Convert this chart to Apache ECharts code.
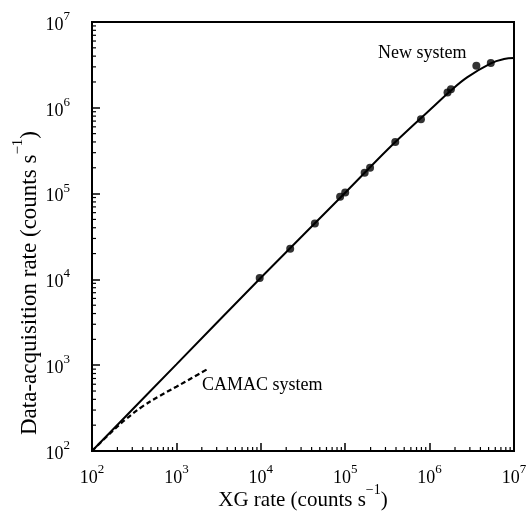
<!DOCTYPE html>
<html>
<head>
<meta charset="utf-8">
<script src="https://cdn.jsdelivr.net/npm/echarts@6/dist/echarts.min.js"></script>
<style>
html,body{margin:0;padding:0;background:#fff;}
#chart{width:529px;height:513px;}
</style>
</head>
<body>
<div id="chart"></div>
<script>
// New system: fitted curve
var newCurveX = [100, 1000, 1e4, 1e5, 3.16e5, 6.58e5, 1.13e6, 1.71e6, 2.78e6, 5.31e6, 7.62e6, 1e7];
var newCurveY = [100, 1023, 1.047e4, 1.023e5, 3.24e5, 6.43e5, 1.05e6, 1.53e6, 2.26e6, 3.30e6, 3.70e6, 3.80e6];
// New system: measured points
var newPtsX = [9.7e3, 2.23e4, 4.37e4, 8.7e4, 1.0e5, 1.70e5, 1.97e5, 3.92e5, 7.9e5, 1.63e6, 1.79e6, 3.58e6, 5.31e6];
var newPtsY = [1.04e4, 2.27e4, 4.49e4, 9.2e4, 1.03e5, 1.75e5, 2.0e5, 4.0e5, 7.36e5, 1.51e6, 1.65e6, 3.09e6, 3.32e6];
// CAMAC system curve
var camacX = [100, 158, 251, 398, 631, 1000, 1585, 2290];
var camacY = [100, 155, 234, 331, 437, 562, 724, 891];
// Axis decades (exponents)
var decades = [2, 3, 4, 5, 6, 7];

function zip(a, b) { return a.map(function (v, i) { return [v, b[i]]; }); }

var minorVals = [];
decades.slice(0, -1).forEach(function (d) {
  for (var k = 2; k <= 9; k++) minorVals.push(k * Math.pow(10, d));
});

var FONT = 'Liberation Serif';
function powLabel(v) {
  var n = Math.round(Math.log10(v));
  return '{b|10}{s|' + n + '}';
}
var labelRich = {
  b: { fontFamily: FONT, fontSize: 18, color: '#000', verticalAlign: 'bottom', lineHeight: 24 },
  s: { fontFamily: FONT, fontSize: 13, color: '#000', verticalAlign: 'top', lineHeight: 24 }
};
var xNameRich = {
  t: { fontFamily: FONT, fontSize: 21, color: '#000', verticalAlign: 'bottom', lineHeight: 28 },
  s: { fontFamily: FONT, fontSize: 14, color: '#000', verticalAlign: 'top', lineHeight: 28 }
};
var yNameRich = {
  t: { fontFamily: FONT, fontSize: 23, color: '#000', verticalAlign: 'bottom', lineHeight: 30 },
  s: { fontFamily: FONT, fontSize: 15, color: '#000', verticalAlign: 'top', lineHeight: 30 }
};

var chart = echarts.init(document.getElementById('chart'), null, { renderer: 'canvas' });
var option = {
  backgroundColor: '#fff',
  animation: false,
  grid: { left: 92, right: 15, top: 22, bottom: 62, containLabel: false, outerBoundsMode: 'none', show: true, borderColor: '#000', borderWidth: 2, backgroundColor: 'transparent' },
  xAxis: {
    type: 'log', logBase: 10, min: 100, max: 1e7,
    axisLine: { show: true, lineStyle: { color: '#000', width: 2 } },
    axisTick: { show: true, inside: true, length: 8, lineStyle: { color: '#000', width: 1.5 } },
    splitLine: { show: false },
    axisLabel: { formatter: powLabel, rich: labelRich, margin: 12 }
  },
  yAxis: {
    type: 'log', logBase: 10, min: 100, max: 1e7,
    axisLine: { show: true, lineStyle: { color: '#000', width: 2 } },
    axisTick: { show: true, inside: true, length: 8, lineStyle: { color: '#000', width: 1.5 } },
    splitLine: { show: false },
    axisLabel: { formatter: powLabel, rich: labelRich, margin: 22 }
  },
  series: [
    {
      type: 'line', name: 'New system', data: zip(newCurveX, newCurveY),
      smooth: 0.4, showSymbol: false, symbol: 'none',
      lineStyle: { color: '#000', width: 2 }, z: 3
    },
    {
      type: 'scatter', name: 'New system points', data: zip(newPtsX, newPtsY),
      symbol: 'circle', symbolSize: 8, itemStyle: { color: '#000' }, z: 4
    },
    {
      type: 'line', name: 'CAMAC system', data: zip(camacX, camacY),
      smooth: 0.4, showSymbol: false, symbol: 'none',
      lineStyle: { color: '#000', width: 2.2, type: [5, 3] }, z: 3
    },
    {
      type: 'custom', name: 'xminor', silent: true,
      data: minorVals.map(function (v) { return [v, 100]; }),
      renderItem: function (params, api) {
        var p = api.coord([api.value(0), 100]);
        return { type: 'line', shape: { x1: p[0], y1: p[1], x2: p[0], y2: p[1] - 4 }, style: { stroke: '#000', lineWidth: 1.2 } };
      }
    },
    {
      type: 'custom', name: 'yminor', silent: true,
      data: minorVals.map(function (v) { return [100, v]; }),
      renderItem: function (params, api) {
        var p = api.coord([100, api.value(1)]);
        return { type: 'line', shape: { x1: p[0], y1: p[1], x2: p[0] + 4, y2: p[1] }, style: { stroke: '#000', lineWidth: 1.2 } };
      }
    }
  ],
  graphic: [
    { type: 'text', left: 378, top: 44, style: { text: 'New system', font: '18px "Liberation Serif"', fill: '#000' } },
    { type: 'text', left: 202, top: 376, style: { text: 'CAMAC system', font: '18px "Liberation Serif"', fill: '#000' } },
    {
      type: 'text', x: 303, y: 497,
      style: {
        text: '{t|XG rate (counts s}{s|\u22121}{t|)}',
        rich: xNameRich, align: 'center', verticalAlign: 'middle'
      }
    },
    {
      type: 'text', x: 26, y: 283, rotation: Math.PI / 2,
      style: {
        text: '{t|Data-acquisition rate (counts s}{s|\u22121}{t|)}',
        rich: yNameRich, align: 'center', verticalAlign: 'middle'
      }
    }
  ]
};
chart.setOption(option);
</script>
</body>
</html>
